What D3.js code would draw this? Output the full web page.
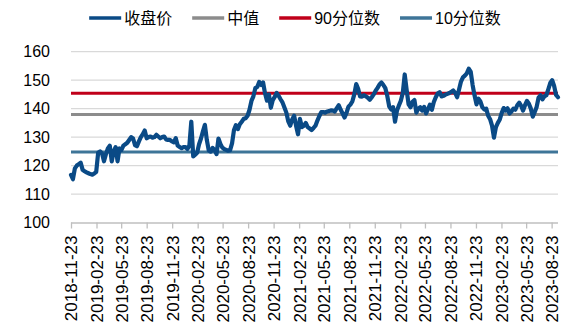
<!DOCTYPE html>
<html><head><meta charset="utf-8">
<script src="https://cdn.jsdelivr.net/npm/d3@7"></script>
<style>
html,body{margin:0;padding:0;background:#fff;}
text{font-family:"Liberation Sans","Arial","Noto Sans CJK SC",sans-serif;fill:#000;}
</style></head>
<body>
<svg id="chart" width="588" height="332"></svg>
<script>
// Weekly closing values starting 2018-11-23
const startDate = "2018-11-23";
const closeValues = [
116.7,115.2,119,120,120.5,121,118.5,118,117.6,117.3,117,116.8,117.2,117.8,124.5,125,124.2,121.5,124,126,
127,121.5,125,126.5,121.5,126,125.5,127,127.5,128,129,130,129.5,127.2,126.8,128.5,130,131,132.3,129.6,
130,130.2,129.8,130,130.8,130.2,129.6,130,130.2,129.2,129,129,128.5,128.2,129.6,127,126.5,126.1,126.5,126.5,
125.8,127,135.4,123.2,123.8,124.5,127.5,129.5,132,134.3,129,125.3,124.9,126.2,125.5,124,129.5,127.6,126.3,125.8,
125.5,125.2,125.4,127.8,132.5,134.2,132.8,134.5,135.4,136.4,136.6,137.5,139.6,142.7,144.3,147.2,147.6,149.4,148.3,149.2,
145.4,142.8,145,140.3,143,144.1,145.5,144.5,143.3,142.2,140.4,138.6,135.5,134,136.2,137.5,134,131,136.4,133.5,
134,135,133.5,133,132.5,133.2,134,135.8,137.4,138.8,138.8,138.6,139,139.1,139.4,139.3,139,140.2,141.2,139.6,
138.3,136.9,138.5,140.7,141.4,142.5,145,148.6,147,144.3,144.2,144.7,144.3,143.8,143.1,144,145,146.3,147.3,148.5,
149.2,148.3,147.2,144.5,140.8,139.7,140.5,135.4,139.3,141.1,142.8,145.5,152,146.5,141.5,140.5,142.4,143,138.6,140,
140.5,139.3,140.6,138.3,139.8,141.4,139.6,142.3,144,145.3,145.8,144.3,144.5,144.9,145.2,145.5,145.9,146.4,145.5,144,
146.7,149.5,151,151.6,152.4,154,153,148.3,144.6,141.5,143.5,142.5,140.5,139.7,140,137.5,136.3,134,129.8,133.5,
135,136.2,138.5,140.2,139.3,140.1,138.3,139,140,139.6,141.2,142.1,141,139.3,141.2,142.7,141.7,140,137.2,138.8,
140.6,143.9,144.7,143.3,144.3,144.7,146.8,149,150,148,144.8,144
];
const medianValue = 137.9;
const p90Value = 145.4;
const p10Value = 124.8;
const seriesNames = ["收盘价","中值","90分位数","10分位数"];
const seriesColors = ["#0a4a86","#8c8c8c","#c0001a","#3e7598"];
const tickLabels = ["2018-11-23","2019-02-23","2019-05-23","2019-08-23","2019-11-23","2020-02-23","2020-05-23",
"2020-08-23","2020-11-23","2021-02-23","2021-05-23","2021-08-23","2021-11-23","2022-02-23","2022-05-23",
"2022-08-23","2022-11-23","2023-02-23","2023-05-23","2023-08-23"];
const yTicks = [100,110,120,130,140,150,160];

const parse = d3.timeParse("%Y-%m-%d");
const t0 = parse(startDate);
const data = closeValues.map((v,i)=>({date:d3.timeDay.offset(t0,7*i), value:v}));
const tEnd = data[data.length-1].date;

const svg = d3.select("#chart");
const x = d3.scaleTime().domain([t0,tEnd]).range([71,558]);
const y = d3.scaleLinear().domain([100,160]).range([222.5,51.7]);

// gridlines
svg.append("g").selectAll("line").data(yTicks.slice(1)).join("line")
  .attr("x1",71).attr("x2",558).attr("y1",d=>y(d)).attr("y2",d=>y(d))
  .attr("stroke","#d9d9d9").attr("stroke-width",1.3);

// y labels
svg.append("g").selectAll("text").data(yTicks).join("text")
  .attr("x",50).attr("y",d=>y(d)).attr("dy","0.36em").attr("text-anchor","end")
  .style("font-size","16px").text(d=>d);

// x axis
const tickDates = tickLabels.map(parse);
const xAxis = d3.axisBottom(x).tickValues(tickDates).tickSize(6).tickSizeOuter(0).tickFormat(d3.timeFormat("%Y-%m-%d"));
const gx = svg.append("g").attr("transform",`translate(0,${y(100)})`).call(xAxis);
gx.select(".domain").attr("stroke","#bfbfbf").attr("stroke-width",1.3).attr("d",`M71,0.5H558`);
gx.selectAll(".tick line").attr("stroke","#bfbfbf").attr("stroke-width",1.3);
gx.selectAll(".tick text").attr("transform","rotate(-90)").attr("x",-13).attr("y",0).attr("dy","0.35em")
  .attr("text-anchor","end").style("font-size","17px").style("fill","#000");

// reference lines
const refVals = [medianValue,p90Value,p10Value];
const refColors = [seriesColors[1],seriesColors[2],seriesColors[3]];
refVals.forEach((v,i)=>{
  svg.append("path").datum(data).attr("fill","none").attr("stroke",refColors[i]).attr("stroke-width",3)
    .attr("d",d3.line().x(d=>x(d.date)).y(()=>y(v)));
});

// close line
svg.append("path").datum(data).attr("fill","none").attr("stroke",seriesColors[0])
  .attr("stroke-width",4.2).attr("stroke-linejoin","round").attr("stroke-linecap","round")
  .attr("d",d3.line().x(d=>x(d.date)).y(d=>y(d.value)));

// legend
const leg = svg.append("g");
let cx = 0;
seriesNames.forEach((n,i)=>{
  const g = leg.append("g").attr("transform",`translate(${cx},0)`);
  g.append("line").attr("x1",0).attr("x2",32).attr("y1",0).attr("y2",0)
    .attr("stroke",seriesColors[i]).attr("stroke-width",3.5);
  const t = g.append("text").attr("x",35).attr("y",0).attr("dy","0.35em").style("font-size","16px").text(n);
  const w = t.node().getComputedTextLength();
  cx += 35 + w + 20;
});
const total = cx - 20;
leg.attr("transform",`translate(${295 - total/2},18)`);
</script>
</body></html>
